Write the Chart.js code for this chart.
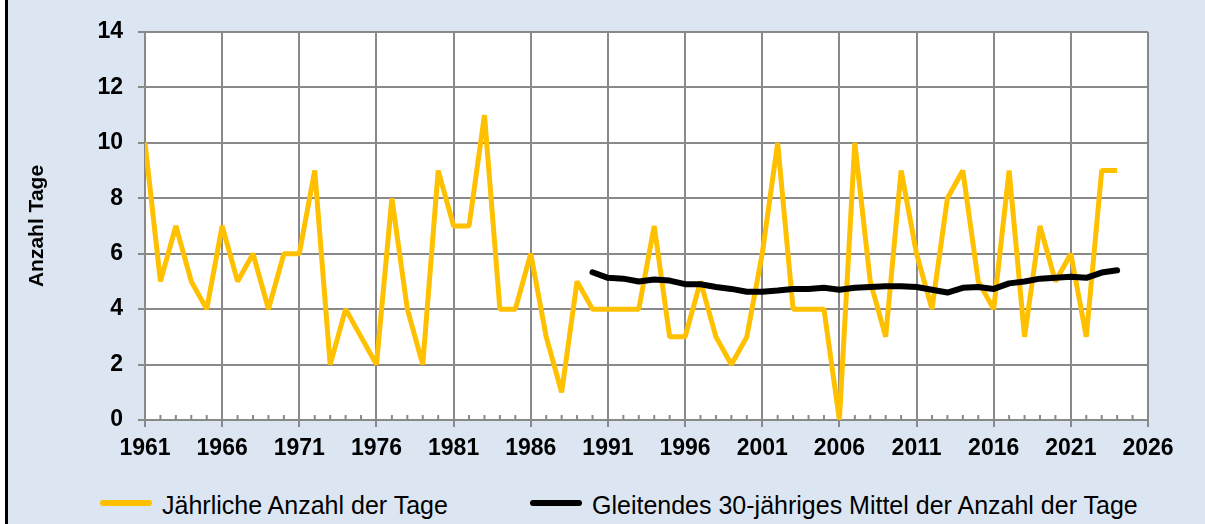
<!DOCTYPE html>
<html>
<head>
<meta charset="utf-8">
<script src="https://cdn.jsdelivr.net/npm/chart.js@4.4.0/dist/chart.umd.min.js"></script>
<style>
  html, body { margin: 0; padding: 0; background: #fff; }
  #frame { position: relative; width: 1205px; height: 524px; background: #dce6f2; overflow: hidden; }
  #edge { position: absolute; left: 0; top: 0; width: 5px; height: 524px; background: #fff; border-right: 3px solid #000; z-index: 2; }
  #chartBox { position: absolute; left: 0; top: 0; width: 1205px; height: 470px; }
  #legend { position: absolute; left: 0; top: 470px; width: 1205px; height: 54px;
            font-family: 'Liberation Sans', Arial, sans-serif; font-size: 25px; color: #000; }
  .item { position: absolute; top: 8px; height: 54px; display: flex; align-items: center; white-space: nowrap; }
  .swatch { width: 52px; height: 6px; border-radius: 3px; margin-right: 10px; margin-top: -5px; }
</style>
</head>
<body>
<div id="frame">
  <div id="edge"></div>
  <div id="chartBox"><canvas id="daysChart"></canvas></div>
  <div id="legend"></div>
</div>
<script>
// Jahreswerte ab 1961
const firstYear = 1961;
const yearlyDays = [10, 5, 7, 5, 4, 7, 5, 6, 4, 6,
                    6, 9, 2, 4, 3, 2, 8, 4, 2, 9,
                    7, 7, 11, 4, 4, 6, 3, 1, 5, 4,
                    4, 4, 4, 7, 3, 3, 5, 3, 2, 3,
                    6, 10, 4, 4, 4, 0, 10, 5, 3, 9,
                    6, 4, 8, 9, 5, 4, 9, 3, 7, 5,
                    6, 3, 9, 9];

// gleitendes 30-jähriges Mittel ab 1990
const meanStartYear = 1990;
const movingMean30 = [5.33, 5.13, 5.10, 5.00, 5.07, 5.03, 4.90, 4.90, 4.80, 4.73,
                      4.63, 4.63, 4.67, 4.73, 4.73, 4.77, 4.70, 4.77, 4.80, 4.83,
                      4.83, 4.80, 4.70, 4.60, 4.77, 4.80, 4.73, 4.93, 5.00, 5.10,
                      5.13, 5.17, 5.13, 5.32, 5.40];

const xTickYears = [1961, 1966, 1971, 1976, 1981, 1986, 1991, 1996, 2001, 2006, 2011, 2016, 2021, 2026];
const yMin = 0, yMax = 14, yStep = 2;

const seriesLabels = ['Jährliche Anzahl der Tage', 'Gleitendes 30-jähriges Mittel der Anzahl der Tage'];
const seriesColors = ['#ffc000', '#000000'];

const gridGray = '#898989';
const fontFamily = "'Liberation Sans', Arial, sans-serif";

const yearlyPoints = yearlyDays.map((v, i) => ({ x: firstYear + i, y: v }));
const meanPoints = movingMean30.map((v, i) => ({ x: meanStartYear + i, y: v }));

// weisser Hintergrund nur im Diagrammbereich
const plotBackground = {
    id: 'plotBackground',
    beforeDraw(chart) {
        const { ctx, chartArea: a } = chart;
        ctx.save();
        ctx.fillStyle = '#fff';
        ctx.fillRect(a.left, a.top, a.right - a.left, a.bottom - a.top);
        ctx.restore();
    }
};

// kleine Striche fuer jedes Jahr, nach innen
const minorTicks = {
    id: 'minorTicks',
    beforeDatasetsDraw(chart) {
        const { ctx, scales } = chart;
        const base = scales.y.getPixelForValue(yMin);
        ctx.save();
        ctx.strokeStyle = gridGray;
        ctx.lineWidth = 2;
        ctx.beginPath();
        for (let yr = firstYear; yr <= xTickYears[xTickYears.length - 1]; yr++) {
            if (xTickYears.includes(yr)) continue;
            const px = scales.x.getPixelForValue(yr);
            ctx.moveTo(px, base);
            ctx.lineTo(px, base - 5);
        }
        ctx.stroke();
        ctx.restore();
    }
};

const ctx = document.getElementById('daysChart').getContext('2d');
new Chart(ctx, {
    type: 'line',
    data: {
        datasets: [{
            label: seriesLabels[0],
            data: yearlyPoints,
            borderColor: seriesColors[0],
            backgroundColor: seriesColors[0],
            borderWidth: 5,
            borderJoinStyle: 'bevel',
            pointRadius: 0,
            tension: 0,
            order: 1
        }, {
            label: seriesLabels[1],
            data: meanPoints,
            borderColor: seriesColors[1],
            backgroundColor: seriesColors[1],
            borderWidth: 6,
            borderCapStyle: 'round',
            borderJoinStyle: 'round',
            pointRadius: 0,
            tension: 0,
            order: 0
        }]
    },
    options: {
        responsive: true,
        maintainAspectRatio: false,
        animation: false,
        layout: { padding: { top: 32, right: 57, bottom: 0, left: 0 } },
        plugins: {
            legend: { display: false },
            tooltip: { enabled: false }
        },
        scales: {
            x: {
                type: 'linear',
                min: xTickYears[0],
                max: xTickYears[xTickYears.length - 1],
                afterBuildTicks: s => { s.ticks = xTickYears.map(v => ({ value: v })); },
                afterFit: s => { s.height = 50; },
                grid: { color: gridGray, lineWidth: 2, tickLength: 7, tickColor: gridGray },
                border: { color: gridGray, width: 2 },
                ticks: {
                    autoSkip: false, maxRotation: 0, padding: 8, color: '#000',
                    font: { family: fontFamily, size: 23, weight: 'bold' },
                    callback: v => String(v)
                }
            },
            y: {
                min: yMin,
                max: yMax,
                afterFit: s => { s.width = 145; },
                grid: { color: gridGray, lineWidth: 2, tickLength: 7, tickColor: gridGray },
                border: { color: gridGray, width: 2 },
                ticks: {
                    stepSize: yStep, padding: 15, color: '#000',
                    font: { family: fontFamily, size: 23, weight: 'bold' }
                },
                title: {
                    display: true,
                    text: 'Anzahl Tage',
                    color: '#000',
                    padding: { top: 25, bottom: 0 },
                    font: { family: fontFamily, size: 21, weight: 'bold' }
                }
            }
        }
    },
    plugins: [plotBackground, minorTicks]
});

// Legende unter dem Diagramm
const legendEl = document.getElementById('legend');
const legendLeft = [100, 530];
seriesLabels.forEach((label, i) => {
    const item = document.createElement('div');
    item.className = 'item';
    item.style.left = legendLeft[i] + 'px';
    const sw = document.createElement('span');
    sw.className = 'swatch';
    sw.style.background = seriesColors[i];
    const txt = document.createElement('span');
    txt.textContent = label;
    item.appendChild(sw);
    item.appendChild(txt);
    legendEl.appendChild(item);
});
</script>
</body>
</html>
